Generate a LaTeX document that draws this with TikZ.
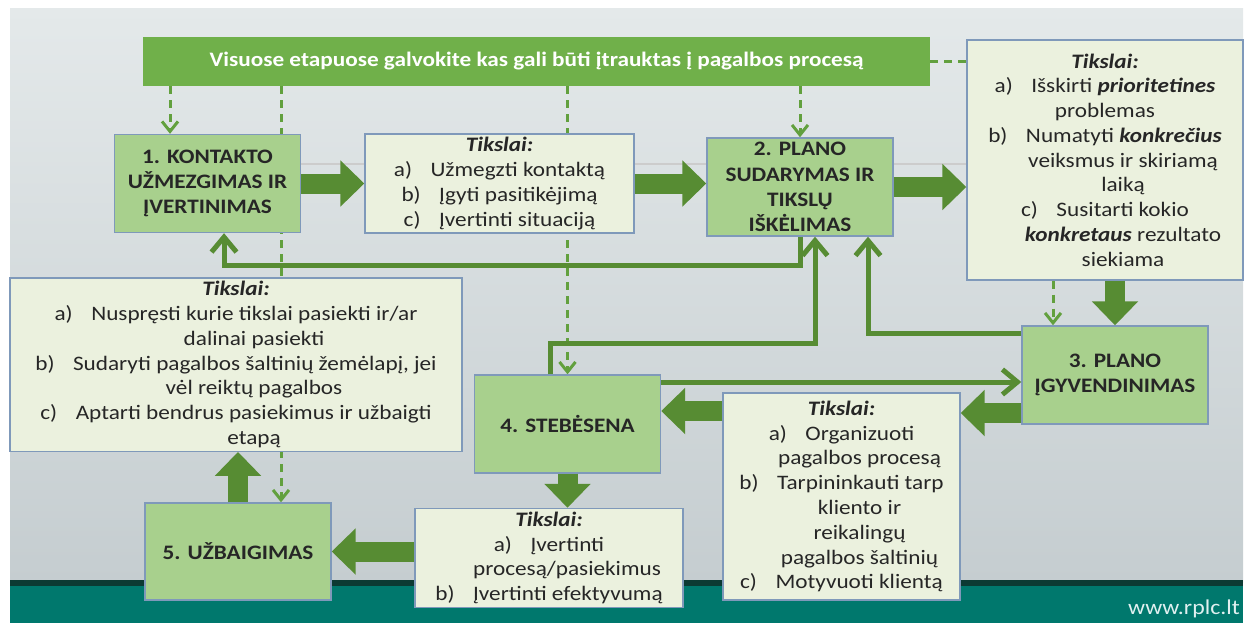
\documentclass[tikz,border=0pt]{standalone}
\usepackage{fontspec}
\setmainfont{Carlito}[FakeStretch=1.13]
\usepackage{xcolor}
\usepackage{tikz}
\usetikzlibrary{arrows.meta, positioning}

\definecolor{stagegreen}{HTML}{A8D08D}
\definecolor{goalgreen}{HTML}{EBF1DE}
\definecolor{framegray}{HTML}{7F99BA}
\definecolor{arrowgreen}{HTML}{578C33}
\definecolor{hintgreen}{HTML}{62A03E}
\definecolor{bannergreen}{HTML}{70B04A}
\definecolor{slidetop}{HTML}{E4E9EA}
\definecolor{slidebottom}{HTML}{C5CDD0}
\definecolor{footteal}{HTML}{00786D}
\definecolor{footdark}{HTML}{0C3A33}

\newcommand{\itm}[1]{#1)\hspace{0.9em}}
\newcommand{\hang}{\hspace*{0.72cm}}
\newcommand{\tks}{\textbf{\textit{Tikslai:}}}

\pgfdeclarelayer{bg}
\pgfdeclarelayer{back}
\pgfsetlayers{bg,back,main}

\begin{document}
\begin{tikzpicture}[x=0.02cm, y=-0.02cm,
			stage/.style={draw=framegray, line width=0.8pt, fill=stagegreen, align=center,
				font=\fontsize{11.7}{14.4}\selectfont\bfseries, text=black!85,
				minimum width=3.72cm, minimum height=1.96cm, inner sep=2pt},
			goal/.style={draw=framegray, line width=0.8pt, fill=goalgreen, align=center,
				font=\fontsize{11.7}{14.1}\selectfont, text=black!85, inner sep=2pt},
			bigarrow/.style={draw=arrowgreen, line width=0.4cm, -{Triangle[length=0.48cm, width=0.9cm]}},
			back/.style={draw=arrowgreen, line width=0.1cm, -{Straight Barb[length=0.3cm, width=0.5cm]}},
			hint/.style={draw=hintgreen, line width=0.06cm, dash pattern=on 0.16cm off 0.12cm,
				-{Straight Barb[length=0.2cm, width=0.32cm]}}]

	\useasboundingbox (0,0) rectangle (1251,623);

	\begin{pgfonlayer}{bg}
		\shade[top color=slidetop, bottom color=slidebottom] (10,8) rectangle (1243,582);
		\fill[footteal] (10,582) rectangle (1243,623);
		\fill[footdark] (10,580) rectangle (1243,586);
	\end{pgfonlayer}

	% rails of the connectors
	\coordinate (h1) at (170,0);
	\coordinate (h2) at (281,0);
	\coordinate (h3) at (1053,0);
	\coordinate (r1) at (224,265);
	\coordinate (r2) at (550,343);
	\coordinate (r3) at (815,343);
	\coordinate (r4) at (868,333);
	\coordinate (r5) at (0,382);
	\coordinate (r6) at (0,413);
	\coordinate (r7) at (0,411);
	\coordinate (g0) at (0,164);

	\node[fill=bannergreen, minimum width=15.74cm, minimum height=0.98cm, text=white,
		font=\fontsize{11.7}{14}\selectfont\bfseries] (banner) at (536.5,61.5)
		{Visuose etapuose galvokite kas gali būti įtrauktas į pagalbos procesą};

	\node[stage] (box1) at (207.5,183.5) {1. KONTAKTO\\UŽMEZGIMAS IR\\ĮVERTINIMAS};
	\node[goal, minimum width=5.38cm, minimum height=1.94cm] (t1) at (499.5,183.5)
		{\tks\\ \itm{a}Užmegzti kontaktą\\ \itm{b}Įgyti pasitikėjimą\\ \itm{c}Įvertinti situaciją};
	\node[stage] (box2) at (800,187) {2. PLANO\\SUDARYMAS IR\\TIKSLŲ\\IŠKĖLIMAS};
	\node[goal, minimum width=5.52cm, minimum height=4.8cm] (t2) at (1105,160)
		{\tks\\ \itm{a}Išskirti \textbf{\textit{prioritetines}}\\ problemas\\
		\itm{b}Numatyti \textbf{\textit{konkrečius}}\\ \hang veiksmus ir skiriamą\\ \hang laiką\\
		\itm{c}Susitarti kokio\\ \hang\textbf{\textit{konkretaus}} rezultato\\ \hang siekiama};
	\node[stage] (box3) at (1115,375) {3. PLANO\\ĮGYVENDINIMAS};
	\node[goal, minimum width=4.74cm, minimum height=4.14cm] (t3) at (841.5,496.5)
		{\tks\\ \itm{a}Organizuoti\\ \hang pagalbos procesą\\ \itm{b}Tarpininkauti tarp\\
		\hang kliento ir\\ \hang reikalingų\\ \hang pagalbos šaltinių\\ \itm{c}Motyvuoti klientą};
	\node[stage] (box4) at (567.5,424) {4. STEBĖSENA};
	\node[goal, minimum width=5.36cm, minimum height=1.96cm] (t4) at (549,558)
		{\tks\\ \itm{a}Įvertinti\\ \hang procesą/pasiekimus\\ \itm{b}Įvertinti efektyvumą};
	\node[stage, minimum height=1.94cm] (box5) at (238,551.5) {5. UŽBAIGIMAS};
	\node[goal, minimum width=9.04cm, minimum height=3.46cm] (t5) at (236,364.5)
		{\tks\\ \itm{a}Nuspręsti kurie tikslai pasiekti ir/ar\\ \hang dalinai pasiekti\\
		\itm{b}Sudaryti pagalbos šaltinių žemėlapį, jei\\ \hang vėl reiktų pagalbos\\
		\itm{c}Aptarti bendrus pasiekimus ir užbaigti\\ \hang etapą};

	\node[anchor=base east, text=white!88!teal, font=\fontsize{12}{12}\selectfont] (site) at (1246,614) {www.rplc.lt};

	\begin{pgfonlayer}{back}
		\draw[gray!40, line width=0.7pt] (box1.east |- g0) -- (t2.west |- g0);
		\draw[hint] (banner.south -| h1) -- (box1.north -| h1);
		\draw[hint] (banner.south -| h2) -- (box5.north -| h2);
		\draw[hint] (banner.south -| box4.north) -- (box4.north);
		\draw[hint] (banner.south -| box2.north) -- (box2.north);
		\draw[hint, -] (banner.east) -- (t2.west |- banner.east);
		\draw[hint] (t2.south -| h3) -- (box3.north -| h3);
	\end{pgfonlayer}

	\draw[bigarrow] (box1.east) -- (t1.west);
	\draw[bigarrow] (t1.east) -- (box2.west |- t1.east);
	\draw[bigarrow] (box2.east) -- (t2.west |- box2.east);
	\draw[bigarrow] (t2.south -| box3.north) -- (box3.north);
	\draw[bigarrow] (box3.west |- r6) -- (t3.east |- r6);
	\draw[bigarrow] (t3.west |- r7) -- (box4.east |- r7);
	\draw[bigarrow] (box4.south) -- (t4.north -| box4.south);
	\draw[bigarrow] (t4.west |- box5.east) -- (box5.east);
	\draw[bigarrow] (box5.north) -- (t5.south -| box5.north);

	\draw[back] (box2.south) |- (r1) -- (box1.south -| r1);
	\draw[back] (box4.north -| r2) -- (r2) -- (r3) -- (box2.south -| r3);
	\draw[back] (box3.west |- r4) -- (r4) -- (box2.south -| r4);
	\draw[back] (box4.east |- r5) -- (box3.west |- r5);
\end{tikzpicture}
\end{document}
